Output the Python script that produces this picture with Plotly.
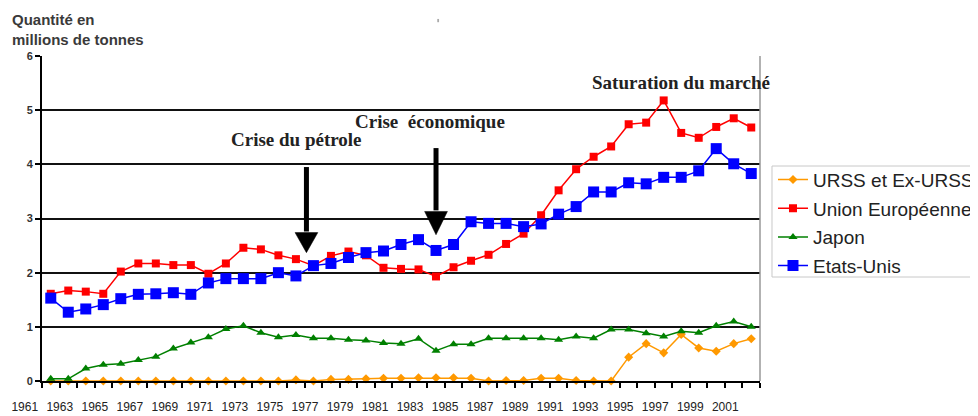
import plotly.graph_objects as go

years = list(range(1961, 2002))
tick_years = years[::2]
tick_labels = [str(y) for y in tick_years]

urss = [0, 0, 0, 0, 0, 0, 0, 0, 0, 0, 0, 0, 0, 0, 0.02, 0.0, 0.03, 0.03, 0.04, 0.05,
        0.05, 0.06, 0.06, 0.06, 0.05, 0.0, 0.01, 0.01, 0.05, 0.05, 0.01, 0.0, 0.0,
        0.44, 0.69, 0.52, 0.86, 0.61, 0.55, 0.69, 0.78]
ue = [1.61, 1.67, 1.65, 1.61, 2.02, 2.17, 2.17, 2.14, 2.14, 1.98, 2.17, 2.46, 2.43,
      2.32, 2.25, 2.13, 2.31, 2.39, 2.32, 2.09, 2.07, 2.06, 1.93, 2.10, 2.22, 2.33,
      2.53, 2.72, 3.06, 3.52, 3.91, 4.14, 4.33, 4.74, 4.77, 5.18, 4.58, 4.49, 4.69,
      4.85, 4.68]
japon = [0.04, 0.04, 0.23, 0.30, 0.32, 0.39, 0.45, 0.60, 0.71, 0.81, 0.96, 1.02, 0.89,
         0.81, 0.85, 0.79, 0.79, 0.76, 0.75, 0.70, 0.69, 0.78, 0.56, 0.68, 0.68, 0.79,
         0.79, 0.79, 0.79, 0.76, 0.82, 0.79, 0.95, 0.95, 0.88, 0.82, 0.92, 0.89, 1.02,
         1.10, 1.00]
usa = [1.53, 1.27, 1.33, 1.41, 1.52, 1.60, 1.61, 1.63, 1.60, 1.81, 1.89, 1.89, 1.89,
       2.00, 1.94, 2.13, 2.17, 2.28, 2.37, 2.40, 2.52, 2.61, 2.41, 2.52, 2.94, 2.91,
       2.91, 2.85, 2.90, 3.08, 3.22, 3.49, 3.49, 3.66, 3.64, 3.76, 3.76, 3.88, 4.29,
       4.01, 3.83]

series = [
    ("URSS et Ex-URSS", urss, "#FF9900", "diamond", 7),
    ("Union Européenne", ue, "#FF0000", "square", 8),
    ("Japon", japon, "#008000", "triangle-up", 8),
    ("Etats-Unis", usa, "#0000FF", "square", 11),
]

fig = go.Figure()
for name, vals, col, sym, sz in series:
    fig.add_trace(go.Scatter(
        x=years, y=vals, name=name, mode="lines+markers",
        line=dict(color=col, width=1.5),
        marker=dict(color=col, symbol=sym, size=sz),
        cliponaxis=False, legendgroup=name,
    ))

serif = "Liberation Serif, Times New Roman, serif"
sans = "Liberation Sans, Arial, sans-serif"

shapes = []
# arrows (x in years, y in data units)
for ax, top, base, tip in [(1975.6, 3.95, 2.74, 2.37), (1983.0, 4.30, 3.13, 2.70)]:
    shapes.append(dict(type="line", xref="x", yref="y", x0=ax, x1=ax, y0=top, y1=base + 0.02,
                       line=dict(color="black", width=5)))
    hw = 0.65
    shapes.append(dict(type="path", xref="x", yref="y",
                       path=f"M {ax-hw},{base} L {ax+hw},{base} L {ax},{tip} Z",
                       fillcolor="black", line=dict(color="black", width=0.5)))
# right border of plot area
shapes.append(dict(type="line", xref="paper", yref="paper", x0=1, x1=1, y0=0, y1=1.0,
                   line=dict(color="#999999", width=1.5)))
# legend frame
shapes.append(dict(type="rect", xref="paper", yref="paper", x0=1.0167, x1=1.3008,
                   y0=0.32, y1=0.6615, line=dict(color="#c8c8c8", width=1),
                   fillcolor="rgba(0,0,0,0)"))
# small stray mark at top
shapes.append(dict(type="rect", xref="paper", yref="paper", x0=0.5505, x1=0.553,
                   y0=1.104, y1=1.114, fillcolor="#aaaaaa", line=dict(width=0)))

annotations = [
    dict(text="<b>Quantité en<br>millions de tonnes</b>", xref="paper", yref="paper",
         x=-0.0446, y=1.080, xanchor="left", yanchor="middle", align="left",
         showarrow=False, font=dict(family=sans, size=15, color="#3a3a3a")),
    dict(text="<b>Crise du pétrole</b>", xref="x", yref="y", x=1975.03, y=4.45,
         showarrow=False, font=dict(family=serif, size=19, color="#222")),
    dict(text="<b>Crise\u00a0 économique</b>", xref="x", yref="y", x=1982.66, y=4.79,
         showarrow=False, font=dict(family=serif, size=19, color="#222")),
    dict(text="<b>Saturation du marché</b>", xref="paper", yref="y", x=1.0174, y=5.52,
         showarrow=False, font=dict(family=serif, size=19, color="#222")),
]

fig.update_layout(
    width=970, height=408,
    margin=dict(l=34, r=218, t=48, b=35, autoexpand=False),
    paper_bgcolor="white", plot_bgcolor="white",
    showlegend=True,
    legend=dict(x=1.0181, y=0.678, xanchor="left", yanchor="top",
                borderwidth=0, bgcolor="rgba(0,0,0,0)",
                font=dict(family=sans, size=19, color="#222"),
                tracegroupgap=1, itemwidth=30),
    shapes=shapes, annotations=annotations,
    xaxis=dict(range=[1960.5, 2001.5], tickmode="array", tickvals=tick_years,
               ticktext=tick_labels, ticks="", showgrid=False, zeroline=False,
               showline=True, linecolor="black", linewidth=2,
               ticklabelshift=-26, ticklabelstandoff=14,
               tickfont=dict(family=sans, size=12, color="#222"),
               minor=dict(tickmode="array", tickvals=[1960.5 + k for k in range(42)],
                          ticks="outside", ticklen=5, tickcolor="black", tickwidth=1.5,
                          showgrid=False)),
    yaxis=dict(range=[0, 6], tickmode="array", tickvals=[0, 1, 2, 3, 4, 5, 6],
               ticks="outside", ticklen=5, tickcolor="black", tickwidth=1.5,
               showgrid=True, gridcolor="#111", gridwidth=1.5, zeroline=False,
               showline=True, linecolor="black", linewidth=2,
               tickfont=dict(family=sans, size=11, color="#333", weight="bold")),
)

fig.write_html("out.html")
